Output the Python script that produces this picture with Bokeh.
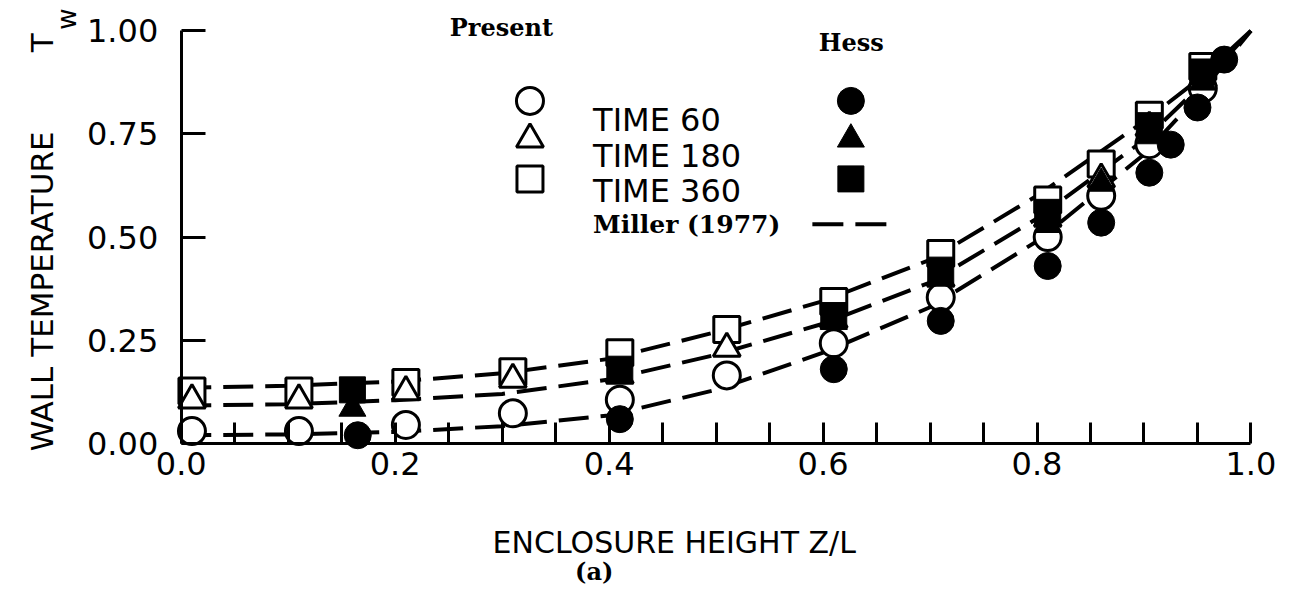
import math
from bokeh.plotting import figure
from bokeh.models import FixedTicker, PrintfTickFormatter, Label, Range1d, LinearAxis
from bokeh.embed import file_html
from bokeh.resources import INLINE

# ---------------- data ----------------
# Present computation (open markers)
present_x = [0.01, 0.11, 0.21, 0.31, 0.41, 0.51, 0.61, 0.71, 0.81, 0.86, 0.905, 0.955]
present_t60 = [0.030, 0.030, 0.045, 0.073, 0.106, 0.165, 0.243, 0.354, 0.500, 0.600, 0.725, 0.860]
present_t180 = [0.105, 0.105, 0.125, 0.155, 0.165, 0.230, 0.300, 0.400, 0.545, 0.640, 0.765, 0.885]
present_t360 = [0.127, 0.127, 0.148, 0.174, 0.220, 0.276, 0.344, 0.460, 0.590, 0.677, 0.795, 0.913]

# Hess (filled markers)
hess_t60_x = [0.165, 0.41, 0.61, 0.71, 0.81, 0.86, 0.905, 0.925, 0.95, 0.975]
hess_t60 = [0.020, 0.059, 0.180, 0.297, 0.430, 0.535, 0.656, 0.724, 0.814, 0.930]
hess_t180_x = [0.16, 0.41, 0.61, 0.71, 0.81, 0.86, 0.905, 0.955]
hess_t180 = [0.085, 0.165, 0.295, 0.400, 0.530, 0.630, 0.745, 0.875]
hess_t360_x = [0.16, 0.41, 0.61, 0.71, 0.81, 0.905, 0.955]
hess_t360 = [0.130, 0.180, 0.310, 0.420, 0.560, 0.770, 0.900]

# Miller (1977) curves
miller_x = [0.0, 0.1, 0.2, 0.3, 0.4, 0.5, 0.6, 0.7, 0.8, 0.9, 0.95, 1.0]
miller_t60 = [0.020, 0.022, 0.028, 0.042, 0.068, 0.130, 0.220, 0.330, 0.490, 0.700, 0.840, 1.0]
miller_t180 = [0.092, 0.095, 0.105, 0.120, 0.155, 0.215, 0.290, 0.390, 0.545, 0.735, 0.860, 1.0]
miller_t360 = [0.135, 0.140, 0.150, 0.170, 0.205, 0.270, 0.345, 0.445, 0.600, 0.780, 0.880, 1.0]

x_ticks = [0.0, 0.2, 0.4, 0.6, 0.8, 1.0]
x_minor_ticks = [0.05, 0.1, 0.15, 0.25, 0.3, 0.35, 0.45, 0.5, 0.55, 0.65, 0.7, 0.75, 0.85, 0.9, 0.95]
y_ticks = [0.0, 0.25, 0.5, 0.75, 1.0]

y_label = "WALL TEMPERATURE"
x_label = "ENCLOSURE HEIGHT Z/L"

# ---------------- figure ----------------
# The frame fills the whole canvas; the axes are pinned at 0 and bounded to [0, 1]
W, H = 1285, 589
FRAME_LEFT, PX_PER_X = 180.75, 1069.7
FRAME_Y0, PX_PER_Y = 443.0, 412.8
x_range = Range1d(-FRAME_LEFT / PX_PER_X, (W - FRAME_LEFT) / PX_PER_X)
y_range = Range1d(-(H - FRAME_Y0) / PX_PER_Y, FRAME_Y0 / PX_PER_Y)

p = figure(width=W, height=H, x_range=x_range, y_range=y_range,
           x_axis_location=None, y_axis_location=None,
           output_backend="svg", toolbar_location=None,
           min_border_left=0, min_border_right=0, min_border_top=0, min_border_bottom=0)
p.grid.visible = False
p.outline_line_color = None
p.background_fill_color = "white"
p.border_fill_color = "white"

SANS = "DejaVu Sans"
SERIF = "DejaVu Serif"

xa = LinearAxis(fixed_location=0, bounds=(0, 1))
xa.ticker = FixedTicker(ticks=x_ticks, minor_ticks=x_minor_ticks)
xa.formatter = PrintfTickFormatter(format="%.1f")
xa.major_tick_in = 21
xa.major_tick_out = 0
xa.minor_tick_in = 21
xa.minor_tick_out = 0
xa.axis_line_width = 3
xa.major_tick_line_width = 3
xa.minor_tick_line_width = 3
xa.axis_line_color = "black"
xa.major_tick_line_color = "black"
xa.minor_tick_line_color = "black"
xa.major_label_text_font = SANS
xa.major_label_text_font_size = "32px"
xa.major_label_text_color = "black"
xa.major_label_standoff = 8
p.add_layout(xa, "below")

ya = LinearAxis(fixed_location=0, bounds=(0, 1))
ya.ticker = FixedTicker(ticks=y_ticks, minor_ticks=[])
ya.formatter = PrintfTickFormatter(format="%.2f")
ya.major_tick_in = 24
ya.major_tick_out = 0
ya.minor_tick_in = 0
ya.minor_tick_out = 0
ya.axis_line_width = 3
ya.major_tick_line_width = 3
ya.axis_line_color = "black"
ya.major_tick_line_color = "black"
ya.major_label_text_font = SANS
ya.major_label_text_font_size = "32px"
ya.major_label_text_color = "black"
ya.major_label_standoff = 23
p.add_layout(ya, "left")

# Miller curves
DASH = "30 12"
for ys in (miller_t60, miller_t180, miller_t360):
    p.line(miller_x, ys, line_color="black", line_width=4, line_dash=DASH)

# Present (open markers)
MS = 27
SQ = 26
p.scatter(present_x, present_t360, marker="square", size=SQ, fill_color="white",
          line_color="black", line_width=3)
p.scatter(present_x, present_t180, marker="triangle", size=MS, fill_color="white",
          line_color="black", line_width=3)
p.scatter(present_x, present_t60, marker="circle", size=MS, fill_color="white",
          line_color="black", line_width=3)

# Hess (filled markers)
p.scatter(hess_t360_x, hess_t360, marker="square", size=SQ, fill_color="black", line_color="black")
p.scatter(hess_t180_x, hess_t180, marker="triangle", size=MS, fill_color="black", line_color="black")
p.scatter(hess_t60_x, hess_t60, marker="circle", size=MS, fill_color="black", line_color="black")

# ---------------- legend (hand-built, like the reference) ----------------
leg_open_x = 0.326
leg_fill_x = 0.626
leg_rows_y = [0.830, 0.737, 0.641]
p.scatter([leg_open_x], [leg_rows_y[0]], marker="circle", size=MS, fill_color="white",
          line_color="black", line_width=3)
p.scatter([leg_open_x], [leg_rows_y[1]], marker="triangle", size=MS, fill_color="white",
          line_color="black", line_width=3)
p.scatter([leg_open_x], [leg_rows_y[2]], marker="square", size=SQ, fill_color="white",
          line_color="black", line_width=3)
p.scatter([leg_fill_x], [leg_rows_y[0]], marker="circle", size=MS, fill_color="black", line_color="black")
p.scatter([leg_fill_x], [leg_rows_y[1]], marker="triangle", size=MS, fill_color="black", line_color="black")
p.scatter([leg_fill_x], [leg_rows_y[2]], marker="square", size=SQ, fill_color="black", line_color="black")
p.line([0.590, 0.660], [0.531, 0.531], line_color="black", line_width=4, line_dash="31 12")


def add_label(x, y, text, font, size, style="normal", align="left", angle=0.0):
    p.add_layout(Label(x=x, y=y, text=text, text_font=font, text_font_size=size,
                       text_font_style=style, text_align=align, text_baseline="alphabetic",
                       text_color="black", angle=angle))


add_label(0.251, 1.007, "Present", SERIF, "24px", "bold")
add_label(0.596, 0.972, "Hess", SERIF, "24px", "bold")
add_label(0.385, 0.783, "TIME 60", SANS, "32px")
add_label(0.385, 0.696, "TIME 180", SANS, "32px")
add_label(0.385, 0.611, "TIME 360", SANS, "32px")
add_label(0.385, 0.531, "Miller (1977)", SERIF, "25px", "bold")

# axis titles
add_label(-0.130, -0.019, y_label, SANS, "31px", angle=math.pi / 2)
add_label(-0.130, 0.948, "T", SANS, "31px", angle=math.pi / 2)
add_label(-0.107, 1.002, "w", SANS, "26px", angle=math.pi / 2)
add_label(0.291, -0.241, x_label, SANS, "30px")
add_label(0.386, -0.310, "(a)", SERIF, "24px", "bold", align="center")

open("out.html", "w").write(file_html(p, INLINE))
